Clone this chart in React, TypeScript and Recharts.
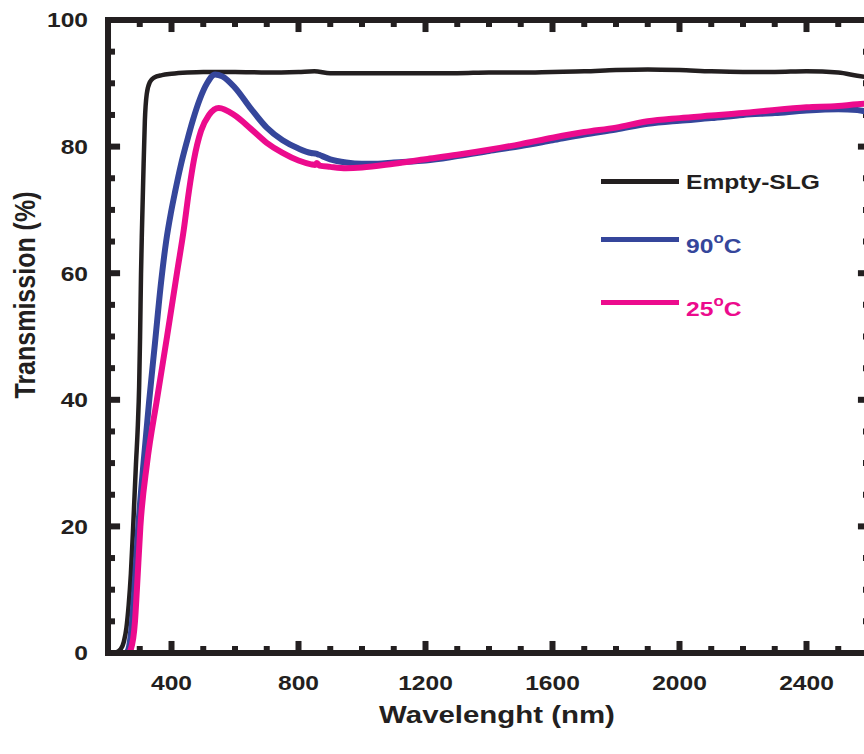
import React from 'react';
import { LineChart, Line, XAxis, YAxis, Legend, ReferenceLine } from 'recharts';

const INK = '#231f20';
const BLUE = '#35469b';
const PINK = '#ec0b8d';
const FONT = '"Liberation Sans", Arial, Helvetica, sans-serif';
// glyphs of the figure are drawn wider than the regular face
const WIDEN = 1.2;
// axes share one edge of the plot, so each one is given a hairline thickness
const THIN = 0.01;

// Empty soda-lime glass substrate
const emptyWavelength = [200, 225, 240, 250, 258, 265, 272, 279, 288, 294, 298, 301, 304, 307, 311, 316, 322, 332, 345, 370, 400, 450, 500, 600, 700, 800, 850, 900, 1000, 1100, 1200, 1300, 1400, 1500, 1600, 1700, 1800, 1900, 2000, 2100, 2200, 2300, 2400, 2500, 2560, 2600];
const emptyTransmission = [0, 0.1, 0.6, 1.8, 4, 7.5, 12.5, 19.7, 29.8, 36, 42, 50, 60, 67, 75, 84, 88.3, 90.2, 90.9, 91.3, 91.5, 91.7, 91.8, 91.8, 91.7, 91.8, 91.9, 91.6, 91.6, 91.6, 91.6, 91.6, 91.7, 91.7, 91.8, 91.9, 92.1, 92.2, 92.1, 91.9, 91.8, 91.8, 91.9, 91.7, 91.2, 90.9];

// Film annealed at 90 °C
const film90Wavelength = [200, 255, 263, 272, 282, 294, 310, 320, 329, 348, 367, 383, 398, 411, 430, 449, 468, 490, 512, 537, 560, 600, 650, 700, 750, 800, 840, 855, 865, 900, 950, 1000, 1050, 1100, 1200, 1300, 1400, 1500, 1600, 1700, 1800, 1900, 2000, 2100, 2200, 2300, 2400, 2500, 2560, 2600];
const film90Transmission = [0, 0, 0.4, 3, 9, 19, 29, 34.5, 39.5, 49, 58.5, 65, 69.5, 72.8, 77.2, 80.9, 84.3, 87.6, 90, 91.4, 91.1, 89.3, 86.0, 83.0, 81.0, 79.7, 79.0, 78.9, 78.7, 78.0, 77.5, 77.3, 77.3, 77.5, 77.8, 78.5, 79.3, 80.1, 81.0, 81.9, 82.7, 83.6, 84.1, 84.5, 85.0, 85.3, 85.7, 85.9, 85.8, 85.3];

// Film dried at 25 °C
const film25Wavelength = [200, 264, 272, 285, 291, 302, 323, 354, 386, 417, 439, 455, 471, 493, 518, 549, 600, 650, 700, 750, 800, 840, 852, 858, 866, 900, 950, 1000, 1100, 1200, 1300, 1400, 1500, 1600, 1700, 1800, 1900, 2000, 2100, 2200, 2300, 2400, 2500, 2560, 2600];
const film25Transmission = [0, 0, 0.6, 5, 10, 20, 30, 40, 50, 60, 67, 73, 78, 82.5, 85, 86.1, 84.9, 82.8, 80.6, 79.0, 77.8, 77.2, 77.1, 77.4, 77.0, 76.8, 76.6, 76.7, 77.3, 78.0, 78.7, 79.5, 80.4, 81.4, 82.3, 83.0, 84.0, 84.5, 84.9, 85.3, 85.8, 86.2, 86.4, 86.7, 86.8];

const seriesNames = ['Empty-SLG', '90°C', '25°C'];
const xTitle = 'Wavelenght (nm)';
const yTitle = 'Transmission (%)';

const majorWavelengthTicks = [400, 800, 1200, 1600, 2000, 2400];
const minorWavelengthTicks = [300, 500, 600, 700, 900, 1000, 1100, 1300, 1400, 1500, 1700, 1800, 1900, 2100, 2200, 2300, 2500];
const majorTransmissionTicks = [0, 20, 40, 60, 80, 100];
const minorTransmissionTicks = [5, 10, 15, 25, 30, 35, 45, 50, 55, 65, 70, 75, 85, 90, 95];

const toPoints = (w: number[], t: number[]) => w.map((x, i) => ({ wavelength: x, transmission: t[i] }));

const emptyData = toPoints(emptyWavelength, emptyTransmission);
const film90Data = toPoints(film90Wavelength, film90Transmission);
const film25Data = toPoints(film25Wavelength, film25Transmission);

const WAVE_MIN = 200;
const WAVE_MAX = 2600;
const TRANS_MIN = 0;
const TRANS_MAX = 100;

// inward tick lengths, in axis units (major / minor)
const X_TICK_MAJOR = 1.9;
const X_TICK_MINOR = 1.1;
const Y_TICK_MAJOR = 38;
const Y_TICK_MINOR = 22;

const axisLineStyle = { stroke: INK, strokeWidth: 6, strokeLinecap: 'square' as const };

function WavelengthTick(props: any) {
  const { x, y, payload } = props;
  return (
    <text
      transform={`translate(${x},${y}) scale(${WIDEN},1)`}
      textAnchor="middle"
      fill={INK}
      fontFamily={FONT}
      fontWeight={700}
      fontSize={20.5}
    >
      {payload.value}
    </text>
  );
}

function TransmissionTick(props: any) {
  const { x, y, payload } = props;
  return (
    <text
      transform={`translate(${x},${y}) scale(${WIDEN},1)`}
      textAnchor="end"
      dy="0.36em"
      fill={INK}
      fontFamily={FONT}
      fontWeight={700}
      fontSize={20.5}
    >
      {payload.value}
    </text>
  );
}

// top of each legend row (line centre) and top of its text box, inside the legend box
const legendLineY = [21, 79, 142];
const legendTextTop = [12, 76, 139];

function SpectraLegend(props: any) {
  const payload = [...(props.payload || [])].sort(
    (a: any, b: any) => seriesNames.indexOf(String(a.value)) - seriesNames.indexOf(String(b.value))
  );
  return (
    <div style={{ position: 'relative', width: 270, height: 170 }}>
      {payload.map((entry: any, i: number) => {
        const label = String(entry.value);
        const parts = label.split('°');
        return (
          <React.Fragment key={label}>
            <div
              style={{
                position: 'absolute',
                left: 11,
                top: legendLineY[i] - 2.5,
                width: 78,
                height: 5,
                background: entry.color,
              }}
            />
            <div
              style={{
                position: 'absolute',
                left: 96,
                top: legendTextTop[i],
                whiteSpace: 'nowrap',
                color: entry.color,
                fontFamily: FONT,
                fontWeight: 700,
                fontSize: 20.5,
                lineHeight: '20.5px',
                transform: `scaleX(${WIDEN})`,
                transformOrigin: 'left center',
              }}
            >
              {parts.length > 1 ? (
                <>
                  {parts[0]}
                  <span style={{ fontSize: 14, position: 'relative', top: -10 }}>o</span>
                  {parts[1]}
                </>
              ) : (
                label
              )}
            </div>
          </React.Fragment>
        );
      })}
    </div>
  );
}

// inward tick marks on all four sides of the frame
function frameTicks() {
  const marks: { key: string; seg: { x: number; y: number }[] }[] = [];
  const wave = (list: number[], len: number, tag: string) => {
    list.forEach((w) => {
      marks.push({ key: `b${tag}${w}`, seg: [{ x: w, y: TRANS_MIN }, { x: w, y: TRANS_MIN + len }] });
      marks.push({ key: `t${tag}${w}`, seg: [{ x: w, y: TRANS_MAX }, { x: w, y: TRANS_MAX - len }] });
    });
  };
  const trans = (list: number[], len: number, tag: string) => {
    list.forEach((t) => {
      marks.push({ key: `l${tag}${t}`, seg: [{ x: WAVE_MIN, y: t }, { x: WAVE_MIN + len, y: t }] });
      marks.push({ key: `r${tag}${t}`, seg: [{ x: WAVE_MAX, y: t }, { x: WAVE_MAX - len, y: t }] });
    });
  };
  wave(majorWavelengthTicks, X_TICK_MAJOR, 'M');
  wave(minorWavelengthTicks, X_TICK_MINOR, 'm');
  trans(majorTransmissionTicks, Y_TICK_MAJOR, 'M');
  trans(minorTransmissionTicks, Y_TICK_MINOR, 'm');
  return marks.map((m) => (
    <ReferenceLine
      key={m.key}
      xAxisId="bottom"
      yAxisId="left"
      segment={m.seg}
      stroke={INK}
      strokeWidth={6}
      ifOverflow="visible"
    />
  ));
}

const titleStyle = {
  position: 'absolute' as const,
  whiteSpace: 'nowrap' as const,
  color: INK,
  fontFamily: FONT,
  fontWeight: 700,
  pointerEvents: 'none' as const,
};

export default function App() {
  return (
    <div style={{ position: 'absolute', left: 0, top: 0, width: 864, height: 754, overflow: 'hidden', background: '#ffffff' }}>
      <LineChart width={900} height={754} margin={{ top: 20, right: 30, bottom: 101, left: 108 }}>
        <XAxis
          xAxisId="bottom"
          type="number"
          dataKey="wavelength"
          domain={[WAVE_MIN, WAVE_MAX]}
          ticks={majorWavelengthTicks}
          orientation="bottom"
          height={THIN}
          tickSize={0}
          tickMargin={37}
          axisLine={axisLineStyle}
          tickLine={false}
          tick={<WavelengthTick />}
          allowDataOverflow
        />
        <XAxis
          xAxisId="top"
          type="number"
          dataKey="wavelength"
          domain={[WAVE_MIN, WAVE_MAX]}
          ticks={majorWavelengthTicks}
          orientation="top"
          height={THIN}
          axisLine={axisLineStyle}
          tickLine={false}
          tick={false}
          allowDataOverflow
        />
        <YAxis
          yAxisId="left"
          type="number"
          domain={[TRANS_MIN, TRANS_MAX]}
          ticks={majorTransmissionTicks}
          orientation="left"
          width={THIN}
          tickSize={0}
          tickMargin={20}
          axisLine={axisLineStyle}
          tickLine={false}
          tick={<TransmissionTick />}
          allowDataOverflow
        />
        <YAxis
          yAxisId="right"
          type="number"
          domain={[TRANS_MIN, TRANS_MAX]}
          ticks={majorTransmissionTicks}
          orientation="right"
          width={THIN}
          axisLine={axisLineStyle}
          tickLine={false}
          tick={false}
          allowDataOverflow
        />
        {frameTicks()}
        <Legend
          layout="horizontal"
          verticalAlign="middle"
          align="center"
          wrapperStyle={{ left: 590, top: 160, width: 270, height: 170 }}
          content={<SpectraLegend />}
        />
        <Line
          xAxisId="bottom"
          yAxisId="left"
          data={emptyData}
          dataKey="transmission"
          name={seriesNames[0]}
          type="monotone"
          stroke={INK}
          strokeWidth={4.5}
          dot={false}
          activeDot={false}
          isAnimationActive={false}
        />
        <Line
          xAxisId="bottom"
          yAxisId="left"
          data={film90Data}
          dataKey="transmission"
          name={seriesNames[1]}
          type="monotone"
          stroke={BLUE}
          strokeWidth={6}
          dot={false}
          activeDot={false}
          isAnimationActive={false}
        />
        <Line
          xAxisId="bottom"
          yAxisId="left"
          data={film25Data}
          dataKey="transmission"
          name={seriesNames[2]}
          type="monotone"
          stroke={PINK}
          strokeWidth={6}
          dot={false}
          activeDot={false}
          isAnimationActive={false}
        />
      </LineChart>
      <div
        style={{
          ...titleStyle,
          left: 497,
          top: 703,
          fontSize: 24.5,
          lineHeight: '24.5px',
          transform: `translateX(-50%) scaleX(${WIDEN})`,
        }}
      >
        {xTitle}
      </div>
      <div
        style={{
          ...titleStyle,
          left: 25,
          top: 295,
          fontSize: 25,
          lineHeight: '25px',
          transform: `translate(-50%, -50%) scaleX(${WIDEN}) rotate(-90deg)`,
        }}
      >
        {yTitle}
      </div>
    </div>
  );
}
